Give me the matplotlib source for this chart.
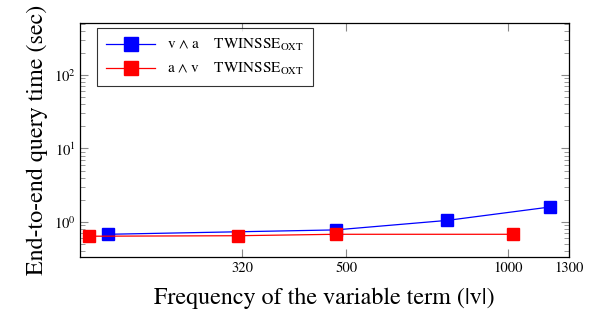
import matplotlib

matplotlib.use("Agg")
import matplotlib.pyplot as plt
from matplotlib.ticker import FixedLocator, FixedFormatter, NullFormatter, NullLocator, LogLocator

plt.rcParams["font.family"] = ["STIXGeneral", "DejaVu Serif"]
plt.rcParams["mathtext.fontset"] = "stix"

# |v| frequency vs. end-to-end query time (sec)
va_freq = [180, 478, 770, 1198]
va_time = [0.68, 0.78, 1.05, 1.60]
av_freq = [166, 314, 478, 1022]
av_time = [0.64, 0.65, 0.68, 0.68]

x_ticks = [320, 500, 1000, 1300]
series_labels = [r"v $\wedge$ a    TWINSSE$_{\mathrm{OXT}}$",
                 r"a $\wedge$ v    TWINSSE$_{\mathrm{OXT}}$"]

fig = plt.figure(figsize=(5.93, 3.23), dpi=100)
ax = fig.add_axes([0.1354, 0.2053, 0.8246, 0.7244])

ax.plot(va_freq, va_time, color="blue", lw=0.9, marker="s", ms=9,
        label=series_labels[0], zorder=3)
ax.plot(av_freq, av_time, color="red", lw=0.9, marker="s", ms=9,
        label=series_labels[1], zorder=4)

ax.set_xscale("log")
ax.set_yscale("log")
ax.set_xlim(160, 1300)
ax.set_ylim(0.337, 515)

ax.xaxis.set_major_locator(FixedLocator(x_ticks))
ax.xaxis.set_major_formatter(FixedFormatter([str(t) for t in x_ticks]))
ax.xaxis.set_minor_locator(NullLocator())
ax.xaxis.set_minor_formatter(NullFormatter())
ax.yaxis.set_major_locator(LogLocator(base=10, numticks=10))
ax.yaxis.set_minor_locator(LogLocator(base=10, subs=range(2, 10), numticks=10))
ax.yaxis.set_minor_formatter(NullFormatter())

ax.tick_params(which="both", direction="in", top=True, right=True,
               color="#888888", labelsize=10.5)
ax.tick_params(which="major", length=6)
ax.tick_params(which="minor", length=3.5)
for s in ax.spines.values():
    s.set_linewidth(0.9)

ax.set_xlabel("Frequency of the variable term (|v|)", fontsize=17.3, labelpad=9)
ax.set_ylabel("End-to-end query time (sec)", fontsize=17.3, labelpad=4)

leg = ax.legend(loc="upper left", bbox_to_anchor=(0.034, 0.977), borderaxespad=0,
                fontsize=11, frameon=True, fancybox=False, edgecolor="black",
                handlelength=3.2, borderpad=0.6, labelspacing=0.5,
                markerscale=1.05)
leg.get_frame().set_linewidth(0.8)

fig.savefig("out.png", dpi=100)
